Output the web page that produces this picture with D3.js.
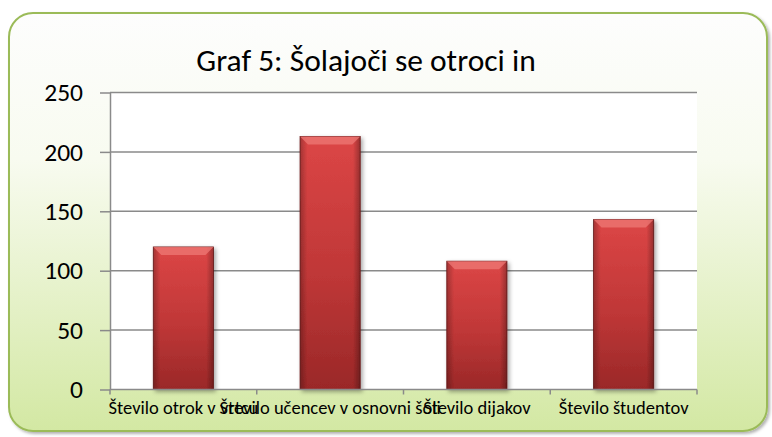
<!DOCTYPE html>
<html>
<head>
<meta charset="utf-8">
<script src="https://cdn.jsdelivr.net/npm/d3@7"></script>
<style>
  html, body { margin: 0; padding: 0; background: #ffffff; }
  text { font-family: Carlito, Calibri, Lato, sans-serif; fill: #000; }
</style>
</head>
<body>
<div id="chart"></div>
<script>
// data
const categories = [
  "Število otrok v vrtcu",
  "Število učencev v osnovni šoli",
  "Število dijakov",
  "Število študentov"
];
const values = [120, 213, 108, 143];
const yTicks = [0, 50, 100, 150, 200, 250];
const title = "Graf 5: Šolajoči se otroci in";

const buildChart = () => {
  const width = 772, height = 437;
  const plot = { left: 110, right: 697, top: 92.5, bottom: 389.5 };

  const svg = d3.select("#chart")
    .append("svg")
    .attr("width", width)
    .attr("height", height);

  const defs = svg.append("defs");

  const bg = defs.append("linearGradient")
    .attr("id", "bg").attr("x1", 0).attr("y1", 0).attr("x2", 0).attr("y2", 1);
  bg.append("stop").attr("offset", "0%").attr("stop-color", "#fdfdfd");
  bg.append("stop").attr("offset", "35%").attr("stop-color", "#f8fbf0");
  bg.append("stop").attr("offset", "100%").attr("stop-color", "#d3e8a3");

  const barGrad = defs.append("linearGradient")
    .attr("id", "barGrad").attr("x1", 0).attr("y1", 0).attr("x2", 0).attr("y2", 1);
  barGrad.append("stop").attr("offset", "0%").attr("stop-color", "#dc4646");
  barGrad.append("stop").attr("offset", "55%").attr("stop-color", "#bf3737");
  barGrad.append("stop").attr("offset", "100%").attr("stop-color", "#9a2828");

  const sideGrad = defs.append("linearGradient")
    .attr("id", "sideGrad").attr("x1", 0).attr("y1", 0).attr("x2", 1).attr("y2", 0);
  sideGrad.append("stop").attr("offset", "0%").attr("stop-color", "#000").attr("stop-opacity", 0.25);
  sideGrad.append("stop").attr("offset", "12%").attr("stop-color", "#000").attr("stop-opacity", 0);
  sideGrad.append("stop").attr("offset", "88%").attr("stop-color", "#000").attr("stop-opacity", 0);
  sideGrad.append("stop").attr("offset", "100%").attr("stop-color", "#000").attr("stop-opacity", 0.3);

  const shadow = defs.append("filter").attr("id", "shadow")
    .attr("x", "-20%").attr("y", "-20%").attr("width", "140%").attr("height", "140%");
  shadow.append("feDropShadow")
    .attr("dx", 2).attr("dy", 2).attr("stdDeviation", 2)
    .attr("flood-color", "#000").attr("flood-opacity", 0.35);

  const frameShadow = defs.append("filter").attr("id", "frameShadow")
    .attr("x", "-5%").attr("y", "-5%").attr("width", "110%").attr("height", "110%");
  frameShadow.append("feDropShadow")
    .attr("dx", 2).attr("dy", 2).attr("stdDeviation", 1.5)
    .attr("flood-color", "#000").attr("flood-opacity", 0.3);

  // outer frame
  svg.append("rect")
    .attr("x", 9).attr("y", 13)
    .attr("width", 758).attr("height", 418)
    .attr("rx", 24).attr("ry", 24)
    .attr("fill", "url(#bg)")
    .attr("stroke", "#9bbb59")
    .attr("stroke-width", 2)
    .attr("filter", "url(#frameShadow)");

  // plot area
  svg.append("rect")
    .attr("x", plot.left).attr("y", plot.top)
    .attr("width", plot.right - plot.left)
    .attr("height", plot.bottom - plot.top)
    .attr("fill", "#ffffff");

  const x = d3.scaleBand()
    .domain(categories)
    .range([plot.left, plot.right])
    .paddingInner(0.59)
    .paddingOuter(0.295);

  const y = d3.scaleLinear()
    .domain([0, 250])
    .range([plot.bottom, plot.top]);

  // grid
  svg.append("g")
    .selectAll("line")
    .data(yTicks.filter(d => d > 0))
    .enter()
    .append("line")
    .attr("x1", plot.left).attr("x2", plot.right)
    .attr("y1", d => y(d)).attr("y2", d => y(d))
    .attr("stroke", "#8a8a8a")
    .attr("stroke-width", 1.5);

  // y axis
  const yAxis = svg.append("g")
    .attr("transform", `translate(${plot.left},0)`)
    .call(d3.axisLeft(y).tickValues(yTicks).tickSize(10).tickPadding(17).tickSizeOuter(0));
  yAxis.select(".domain").attr("stroke", "#8a8a8a").attr("stroke-width", 1.5);
  yAxis.selectAll(".tick line").attr("stroke", "#8a8a8a").attr("stroke-width", 1.5);
  yAxis.selectAll(".tick text")
    .attr("font-size", "25.5px")
    .attr("font-family", "Carlito, Calibri, Lato, sans-serif")
    .attr("fill", "#000");

  // bars
  const bars = svg.append("g")
    .selectAll("g")
    .data(values)
    .enter()
    .append("g")
    .attr("filter", "url(#shadow)");

  bars.append("rect")
    .attr("x", (d, i) => x(categories[i]))
    .attr("y", d => y(d))
    .attr("width", x.bandwidth())
    .attr("height", d => y(0) - y(d))
    .attr("fill", "url(#barGrad)")
    .attr("stroke", "#6f1c1c")
    .attr("stroke-width", 0.8);

  bars.append("rect")
    .attr("x", (d, i) => x(categories[i]))
    .attr("y", d => y(d))
    .attr("width", x.bandwidth())
    .attr("height", d => y(0) - y(d))
    .attr("fill", "url(#sideGrad)");

  const bevel = 8;
  bars.append("polygon")
    .attr("points", (d, i) => {
      const x0 = x(categories[i]), x1 = x0 + x.bandwidth(), t = y(d);
      return [[x0, t], [x1, t], [x1 - bevel, t + bevel], [x0 + bevel, t + bevel]].join(" ");
    })
    .attr("fill", "#ee7a76")
    .attr("opacity", 0.75);

  // x axis
  const step = x.step();
  const bounds = categories.map(c => x(c) - step * x.paddingInner() / 2);
  bounds.push(plot.right);

  svg.append("line")
    .attr("x1", plot.left).attr("x2", plot.right)
    .attr("y1", y(0)).attr("y2", y(0))
    .attr("stroke", "#8a8a8a").attr("stroke-width", 1.5);

  svg.append("g")
    .selectAll("line")
    .data(bounds)
    .enter()
    .append("line")
    .attr("x1", d => d).attr("x2", d => d)
    .attr("y1", y(0)).attr("y2", y(0) + 5)
    .attr("stroke", "#8a8a8a").attr("stroke-width", 1.5);

  svg.append("g")
    .selectAll("text")
    .data(categories)
    .enter()
    .append("text")
    .attr("x", d => x(d) + x.bandwidth() / 2)
    .attr("y", 414)
    .attr("text-anchor", "middle")
    .attr("font-size", "18.5px")
    .text(d => d);

  // title
  svg.append("text")
    .attr("x", 366)
    .attr("y", 71)
    .attr("text-anchor", "middle")
    .attr("font-size", "31.5px")
    .text(title);
};

document.addEventListener("DOMContentLoaded", buildChart);
</script>
</body>
</html>
